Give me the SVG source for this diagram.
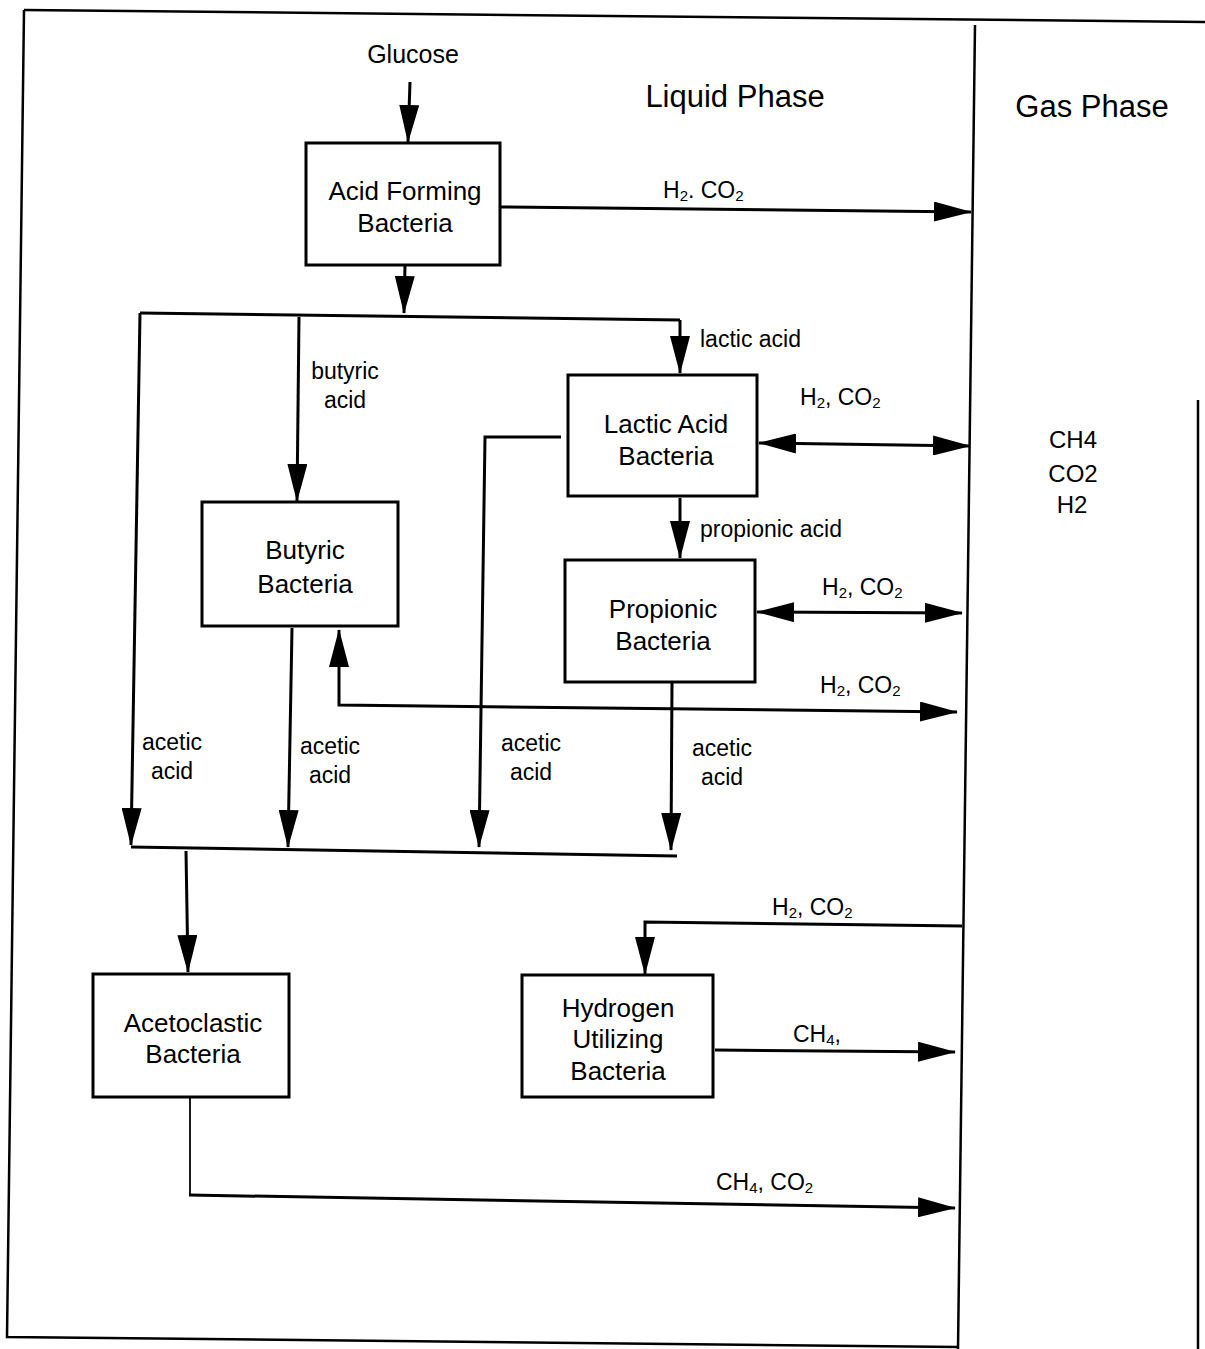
<svg xmlns="http://www.w3.org/2000/svg" width="1205" height="1349" viewBox="0 0 1205 1349">
<style>
text{font-family:"Liberation Sans",Arial,Helvetica,sans-serif;fill:#000}
.bt{font-size:26px;text-anchor:middle}
.lb{font-size:23px}
.lc{font-size:23px;text-anchor:middle}
.ph{font-size:31px;text-anchor:middle}
.sub{font-size:15px}
.box{fill:#fff;stroke:#000;stroke-width:3}
.c{fill:none;stroke:#000;stroke-width:3}
.thin{fill:none;stroke:#000;stroke-width:1.8}
.arr{marker-end:url(#ah)}
.dbl{marker-start:url(#ah);marker-end:url(#ah)}
.frame{fill:none;stroke:#000;stroke-width:2.5}
</style>
<defs>
<marker id="ah" markerUnits="userSpaceOnUse" markerWidth="38" markerHeight="20" refX="37" refY="10" orient="auto-start-reverse" viewBox="0 0 38 20">
<path d="M0,0 L38,10 L0,20 z" fill="#000"/>
</marker>
</defs>
<rect width="1205" height="1349" fill="#fff"/>
<g id="frame">
<path class="frame" d="M24,10 L1205,22"/>
<path class="frame" d="M24,10 L7,1337 L958,1347"/>
<path class="frame" d="M975,25 L958,1349"/>
<path class="frame" d="M1198,400 L1198,1349"/>
</g>
<g id="labels-phase">
<text class="ph" x="735" y="107">Liquid Phase</text>
<text class="ph" x="1092" y="117">Gas Phase</text>
<text class="lc" x="413" y="63" style="font-size:25px">Glucose</text>
</g>
<g id="gas-contents">
<text class="lc" x="1073" y="448" style="font-size:24px">CH4</text>
<text class="lc" x="1073" y="482" style="font-size:24px">CO2</text>
<text class="lc" x="1072" y="513" style="font-size:24px">H2</text>
</g>
<g id="connectors">
<path class="c arr" d="M410,82 L408,142"/>
<path class="c arr" d="M405,265 L404,313"/>
<path class="c arr" d="M500,207 L971,212"/>
<path class="c" d="M140,313 L680,320"/>
<path class="c arr" d="M680,320 L680,373"/>
<path class="c arr" d="M140,313 L131,845"/>
<path class="c arr" d="M299,317 L297,501"/>
<path class="c arr" d="M292,628 L288,847"/>
<path class="c dbl" d="M957,712 L339,705 L339,630"/>
<path class="c arr" d="M561,437 L485,437 L479,847"/>
<path class="c dbl" d="M759,443 L970,446"/>
<path class="c arr" d="M680,498 L680,558"/>
<path class="c dbl" d="M757,612 L962,613"/>
<path class="c arr" d="M672,683 L671,850"/>
<path class="c" d="M131,847 L677,856"/>
<path class="c arr" d="M186,851 L188,972"/>
<path class="thin" d="M190,1097 L190,1195"/>
<path class="c arr" d="M189,1195 L955,1208"/>
<path class="c arr" d="M962,926 L645,922 L645,974"/>
<path class="c arr" d="M715,1050 L955,1052"/>
</g>
<g id="connector-labels">
<text class="lb" x="663" y="198">H<tspan class="sub" dy="3">2</tspan><tspan dy="-3">. CO</tspan><tspan class="sub" dy="3">2</tspan></text>
<text class="lb" x="700" y="347">lactic acid</text>
<text class="lc" x="345" y="379">butyric</text>
<text class="lc" x="345" y="408">acid</text>
<text class="lb" x="800" y="405">H<tspan class="sub" dy="3">2</tspan><tspan dy="-3">, CO</tspan><tspan class="sub" dy="3">2</tspan></text>
<text class="lb" x="700" y="537">propionic acid</text>
<text class="lb" x="822" y="595">H<tspan class="sub" dy="3">2</tspan><tspan dy="-3">, CO</tspan><tspan class="sub" dy="3">2</tspan></text>
<text class="lb" x="820" y="693">H<tspan class="sub" dy="3">2</tspan><tspan dy="-3">, CO</tspan><tspan class="sub" dy="3">2</tspan></text>
<text class="lc" x="172" y="750">acetic</text>
<text class="lc" x="172" y="779">acid</text>
<text class="lc" x="330" y="754">acetic</text>
<text class="lc" x="330" y="783">acid</text>
<text class="lc" x="531" y="751">acetic</text>
<text class="lc" x="531" y="780">acid</text>
<text class="lc" x="722" y="756">acetic</text>
<text class="lc" x="722" y="785">acid</text>
<text class="lb" x="772" y="915">H<tspan class="sub" dy="3">2</tspan><tspan dy="-3">, CO</tspan><tspan class="sub" dy="3">2</tspan></text>
<text class="lb" x="793" y="1042">CH<tspan class="sub" dy="3">4</tspan><tspan dy="-3">,</tspan></text>
<text class="lb" x="716" y="1190">CH<tspan class="sub" dy="3">4</tspan><tspan dy="-3">, CO</tspan><tspan class="sub" dy="3">2</tspan></text>
</g>
<g id="acid-forming">
<rect class="box" x="306" y="143" width="194" height="122"/>
<text class="bt" x="405" y="200">Acid Forming</text>
<text class="bt" x="405" y="232">Bacteria</text>
</g>
<g id="lactic">
<rect class="box" x="568" y="375" width="189" height="121"/>
<text class="bt" x="666" y="433">Lactic Acid</text>
<text class="bt" x="666" y="465">Bacteria</text>
</g>
<g id="butyric">
<rect class="box" x="202" y="502" width="196" height="124"/>
<text class="bt" x="305" y="559">Butyric</text>
<text class="bt" x="305" y="593">Bacteria</text>
</g>
<g id="propionic">
<rect class="box" x="565" y="560" width="190" height="122"/>
<text class="bt" x="663" y="618">Propionic</text>
<text class="bt" x="663" y="650">Bacteria</text>
</g>
<g id="acetoclastic">
<rect class="box" x="93" y="974" width="196" height="123"/>
<text class="bt" x="193" y="1032">Acetoclastic</text>
<text class="bt" x="193" y="1063">Bacteria</text>
</g>
<g id="hydrogen">
<rect class="box" x="522" y="975" width="191" height="122"/>
<text class="bt" x="618" y="1017">Hydrogen</text>
<text class="bt" x="618" y="1048">Utilizing</text>
<text class="bt" x="618" y="1080">Bacteria</text>
</g>
</svg>
